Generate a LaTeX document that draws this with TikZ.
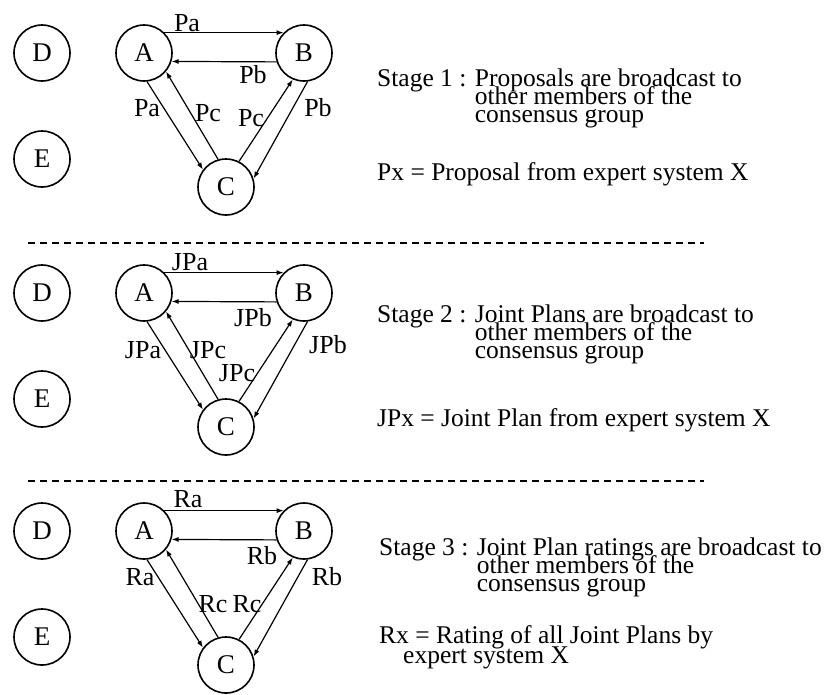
\documentclass[tikz,border=0pt]{standalone}
\usepackage{fontspec}
\setmainfont{Liberation Serif}
\usetikzlibrary{arrows.meta,calc}
\tikzset{
  agent/.style={circle, draw, line width=1.6pt, minimum size=56pt, inner sep=0pt,
    font=\fontsize{27}{27}\selectfont},
  msg/.style={line width=1.2pt, -{Latex[length=7pt,width=5pt]}},
  lbl/.style={inner sep=0pt, font=\fontsize{26}{26}\selectfont},
  txt/.style={anchor=base west, inner sep=0pt, font=\fontsize{25.5}{25}\selectfont},
  sep/.style={line width=2pt, dash pattern=on 7pt off 5pt},
}
\newcommand\mygraph{%
  \node[agent] (D) at (42,53) {D};
  \node[agent] (E) at (42,159) {E};
  \node[agent] (A) at (144,53) {A};
  \node[agent] (B) at (304,53) {B};
  \node[agent] (C) at (226,187) {C};
  \draw[msg] (A.45) -- (B.135);
  \draw[msg] (B.198) -- (A.-17);
  \draw[msg] (A.-84) -- (C.143);
  \draw[msg] (C.106) -- (A.-40);
  \draw[msg] (C.63) -- (B.247);
  \draw[msg] (B.-83) -- (C.17);
}
\begin{document}
\begin{tikzpicture}[x=1pt,y=-1pt]
\useasboundingbox (0,0) rectangle (832,694);
\fill[white] (0,0) rectangle (832,694);

% ---------- Stage 1 ----------
\begin{scope}[name prefix=p1-]
  \mygraph
  \node[lbl] (la) at (187,23) {Pa};
  \node[lbl] (lb) at (253,75) {Pb};
  \node[lbl] (lac) at (147,108) {Pa};
  \node[lbl] (lca) at (208,113) {Pc};
  \node[lbl] (lcb) at (251,118) {Pc};
  \node[lbl] (lbc) at (318,108) {Pb};
  \node[txt] (s) at (377,86) {Stage 1 :};
  \node[txt] (t1) at ($(s.base east)+(8,0)$) {Proposals are broadcast to};
  \node[txt] (t2) at ($(t1.base west)+(0,18)$) {other members of the};
  \node[txt] (t3) at ($(t2.base west)+(0,18)$) {consensus group};
  \node[txt] (x1) at (377,180) {Px = Proposal from expert system X};
\end{scope}

\coordinate (d1l) at (28,243);
\coordinate (d1r) at (704,243);
\draw[sep] (d1l) -- (d1r);

% ---------- Stage 2 ----------
\begin{scope}[shift={(0,240)}, name prefix=p2-]
  \mygraph
  \node[lbl] (la) at (190,22) {JPa};
  \node[lbl] (lb) at (253,78) {JPb};
  \node[lbl] (lac) at (143,110) {JPa};
  \node[lbl] (lca) at (208,110) {JPc};
  \node[lbl] (lcb) at (237,133) {JPc};
  \node[lbl] (lbc) at (328,105) {JPb};
  \node[txt] (s) at (377,82) {Stage 2 :};
  \node[txt] (t1) at ($(s.base east)+(8,0)$) {Joint Plans are broadcast to};
  \node[txt] (t2) at ($(t1.base west)+(0,18)$) {other members of the};
  \node[txt] (t3) at ($(t2.base west)+(0,18)$) {consensus group};
  \node[txt] (x1) at (377,186) {JPx = Joint Plan from expert system X};
\end{scope}

\coordinate (d2l) at (28,481);
\coordinate (d2r) at (704,481);
\draw[sep] (d2l) -- (d2r);

% ---------- Stage 3 ----------
\begin{scope}[shift={(0,478)}, name prefix=p3-]
  \mygraph
  \node[lbl] (la) at (188,21) {Ra};
  \node[lbl] (lb) at (262,78) {Rb};
  \node[lbl] (lac) at (140,99) {Ra};
  \node[lbl] (lca) at (213,126) {Rc};
  \node[lbl] (lcb) at (247,126) {Rc};
  \node[lbl] (lbc) at (327,99) {Rb};
  \node[txt] (s) at (379,77) {Stage 3 :};
  \node[txt] (t1) at ($(s.base east)+(8,0)$) {Joint Plan ratings are broadcast to};
  \node[txt] (t2) at ($(t1.base west)+(0,18)$) {other members of the};
  \node[txt] (t3) at ($(t2.base west)+(0,18)$) {consensus group};
  \node[txt] (x1) at (379,165) {Rx = Rating of all Joint Plans by};
  \node[txt] (x2) at (403,185) {expert system X};
\end{scope}
\end{tikzpicture}
\end{document}
